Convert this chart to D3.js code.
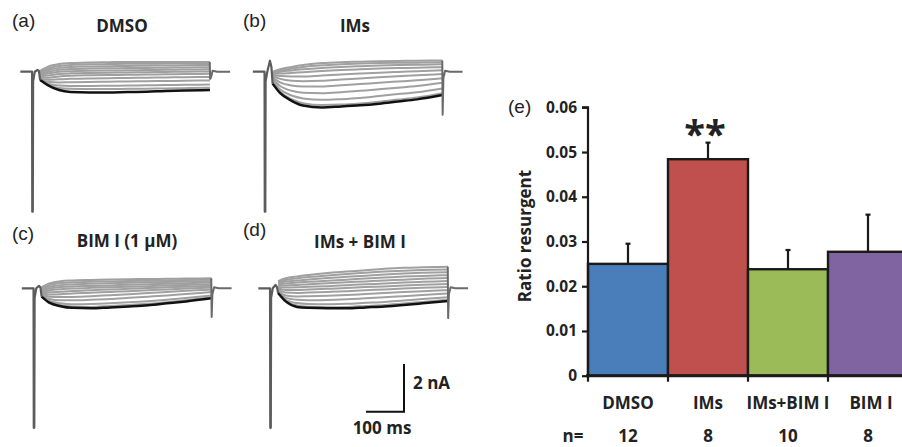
<!DOCTYPE html>
<html><head><meta charset="utf-8">
<script src="https://cdn.jsdelivr.net/npm/d3@7"></script>
<style>body{margin:0;background:#fff}svg{display:block}</style>
</head><body><svg id="c" width="902" height="447"></svg>
<script>
// ---------- Bar chart data (panel e) ----------
const categories = ["DMSO", "IMs", "IMs+BIM I", "BIM I"];
const ratioMean = [0.0250, 0.0484, 0.0238, 0.0277];
const ratioErr = [0.0045, 0.0037, 0.0043, 0.0083];
const nCells = ["12", "8", "10", "8"];
const barColors = ["#4a7ebb", "#c0504d", "#9bbb59", "#8064a2"];
const yTicks = [0, 0.01, 0.02, 0.03, 0.04, 0.05, 0.06];

// ---------- Current traces (nA) sampled at these times (ms after the spike) ----------
const traceTimes = [20, 40, 70, 100, 150, 200, 250, 300, 350, 400, 467];
const panelLabels = ["(a)", "(b)", "(c)", "(d)"];
const panelTitles = ["DMSO", "IMs", "BIM I (1 μM)", "IMs + BIM I"];
const spikeDepth = [-5.87, -5.87, -5.85, -5.85];
const transientPeak = [0.07, 0.46, 0.10, 0.14];
const endSpike = [-0.3, -1.8, -1.2, -1.25];

const blackA = [-0.35, -0.56, -0.77, -0.85, -0.87, -0.87, -0.85, -0.84, -0.81, -0.79, -0.77];
const grayA = [
  [0.03, 0.20, 0.32, 0.36, 0.39, 0.40, 0.41, 0.41, 0.41, 0.41, 0.41],
  [-0.02, 0.13, 0.24, 0.28, 0.31, 0.32, 0.33, 0.33, 0.34, 0.34, 0.35],
  [-0.06, 0.06, 0.16, 0.20, 0.22, 0.23, 0.24, 0.25, 0.26, 0.27, 0.28],
  [-0.10, -0.01, 0.08, 0.11, 0.13, 0.14, 0.15, 0.16, 0.17, 0.18, 0.19],
  [-0.14, -0.08, 0.00, 0.02, 0.04, 0.05, 0.06, 0.07, 0.08, 0.09, 0.10],
  [-0.18, -0.16, -0.10, -0.07, -0.05, -0.04, -0.03, -0.02, -0.01, 0.00, 0.01],
  [-0.22, -0.25, -0.20, -0.17, -0.15, -0.14, -0.13, -0.12, -0.11, -0.10, -0.09],
  [-0.26, -0.34, -0.32, -0.30, -0.28, -0.27, -0.26, -0.25, -0.24, -0.23, -0.22],
  [-0.30, -0.42, -0.45, -0.44, -0.43, -0.42, -0.41, -0.40, -0.39, -0.38, -0.37],
  [-0.33, -0.50, -0.58, -0.60, -0.60, -0.59, -0.58, -0.57, -0.56, -0.55, -0.54],
  [-0.35, -0.54, -0.68, -0.72, -0.73, -0.73, -0.72, -0.71, -0.70, -0.69, -0.67]
];

const blackB = [-0.50, -0.90, -1.22, -1.42, -1.50, -1.46, -1.41, -1.34, -1.25, -1.16, -0.98];
const grayB = [
  [0.00, 0.10, 0.20, 0.28, 0.36, 0.40, 0.42, 0.44, 0.45, 0.46, 0.47],
  [-0.02, 0.05, 0.13, 0.20, 0.27, 0.31, 0.34, 0.36, 0.37, 0.38, 0.40],
  [-0.05, 0.00, 0.05, 0.10, 0.16, 0.20, 0.23, 0.26, 0.28, 0.29, 0.31],
  [-0.08, -0.08, -0.05, -0.02, 0.03, 0.07, 0.10, 0.13, 0.15, 0.17, 0.19],
  [-0.12, -0.18, -0.20, -0.20, -0.16, -0.12, -0.08, -0.04, -0.01, 0.02, 0.06],
  [-0.18, -0.30, -0.38, -0.40, -0.38, -0.33, -0.28, -0.23, -0.19, -0.15, -0.10],
  [-0.25, -0.45, -0.58, -0.62, -0.62, -0.57, -0.52, -0.46, -0.41, -0.36, -0.27],
  [-0.32, -0.60, -0.80, -0.88, -0.90, -0.86, -0.80, -0.74, -0.67, -0.60, -0.46],
  [-0.40, -0.75, -1.00, -1.12, -1.18, -1.15, -1.10, -1.02, -0.94, -0.86, -0.70],
  [-0.45, -0.85, -1.15, -1.32, -1.40, -1.38, -1.33, -1.26, -1.17, -1.08, -0.90]
];

const blackC = [-0.35, -0.60, -0.75, -0.82, -0.84, -0.80, -0.76, -0.71, -0.63, -0.55, -0.42];
const grayC = [
  [0.05, 0.20, 0.30, 0.33, 0.35, 0.37, 0.38, 0.39, 0.40, 0.41, 0.42],
  [0.00, 0.13, 0.22, 0.25, 0.27, 0.29, 0.31, 0.32, 0.33, 0.35, 0.36],
  [-0.04, 0.06, 0.13, 0.16, 0.19, 0.21, 0.23, 0.25, 0.26, 0.28, 0.30],
  [-0.08, -0.01, 0.05, 0.08, 0.10, 0.12, 0.15, 0.17, 0.19, 0.21, 0.24],
  [-0.12, -0.08, -0.04, -0.01, 0.02, 0.04, 0.07, 0.09, 0.12, 0.14, 0.17],
  [-0.16, -0.17, -0.14, -0.11, -0.08, -0.05, -0.02, 0.01, 0.04, 0.07, 0.10],
  [-0.20, -0.26, -0.25, -0.22, -0.19, -0.15, -0.12, -0.08, -0.05, -0.01, 0.03],
  [-0.24, -0.35, -0.37, -0.36, -0.33, -0.29, -0.25, -0.20, -0.15, -0.10, -0.05],
  [-0.28, -0.45, -0.50, -0.50, -0.48, -0.45, -0.40, -0.35, -0.30, -0.24, -0.16],
  [-0.31, -0.53, -0.63, -0.67, -0.66, -0.63, -0.59, -0.54, -0.48, -0.41, -0.30],
  [-0.33, -0.56, -0.70, -0.76, -0.78, -0.74, -0.70, -0.65, -0.58, -0.50, -0.38]
];

const blackD = [-0.20, -0.55, -0.78, -0.82, -0.84, -0.84, -0.80, -0.76, -0.70, -0.63, -0.53];
const grayD = [
  [0.30, 0.42, 0.50, 0.56, 0.64, 0.70, 0.76, 0.82, 0.86, 0.88, 0.90],
  [0.26, 0.35, 0.42, 0.47, 0.54, 0.60, 0.65, 0.70, 0.74, 0.77, 0.79],
  [0.22, 0.28, 0.33, 0.37, 0.43, 0.48, 0.53, 0.58, 0.62, 0.65, 0.67],
  [0.17, 0.20, 0.24, 0.27, 0.32, 0.36, 0.41, 0.45, 0.49, 0.52, 0.55],
  [0.12, 0.12, 0.14, 0.17, 0.21, 0.25, 0.29, 0.33, 0.36, 0.40, 0.43],
  [0.06, 0.03, 0.04, 0.06, 0.09, 0.13, 0.17, 0.20, 0.24, 0.27, 0.31],
  [0.00, -0.07, -0.07, -0.05, -0.02, 0.01, 0.05, 0.08, 0.12, 0.15, 0.18],
  [-0.05, -0.18, -0.20, -0.18, -0.15, -0.12, -0.08, -0.05, -0.01, 0.02, 0.05],
  [-0.10, -0.30, -0.34, -0.33, -0.31, -0.28, -0.24, -0.20, -0.16, -0.12, -0.08],
  [-0.14, -0.40, -0.48, -0.50, -0.49, -0.46, -0.42, -0.38, -0.33, -0.28, -0.22],
  [-0.17, -0.48, -0.62, -0.66, -0.67, -0.65, -0.61, -0.57, -0.51, -0.45, -0.38],
  [-0.19, -0.52, -0.72, -0.77, -0.79, -0.78, -0.74, -0.70, -0.64, -0.57, -0.48]
];

const blacks = [blackA, blackB, blackC, blackD];
const grays = [grayA, grayB, grayC, grayD];

// ---------- Layout ----------
const svg = d3.select("#c");
const boldFont = "'Open Sans', 'Noto Sans', sans-serif";
const regFont = "'Liberation Sans', Arial, sans-serif";

const origins = [{x: 32.5, y: 71.7}, {x: 265, y: 71.7}, {x: 34, y: 288.3}, {x: 270.5, y: 288.3}];
const labelPos = [{x: 12, y: 27}, {x: 243, y: 27}, {x: 12, y: 240}, {x: 243, y: 236}];
const titlePos = [{x: 122, y: 32}, {x: 355, y: 32}, {x: 127, y: 247}, {x: 360, y: 248}];

// time (ms) -> px and current (nA) -> px, shared by all traces and the scale bar
const xT = d3.scaleLinear().domain([0, 100]).range([0, 38]);
const yI = d3.scaleLinear().domain([0, -2]).range([0, 47.7]);

const traceLine = d3.line().x(d => xT(d[0])).y(d => yI(d[1])).curve(d3.curveMonotoneX);
const frameLine = d3.line().x(d => xT(d[0])).y(d => yI(d[1]));

for (let p = 0; p < 4; p++) {
  const g = svg.append("g").attr("transform", `translate(${origins[p].x},${origins[p].y})`);
  // gray traces
  grays[p].forEach(vals => {
    g.append("path")
      .attr("d", traceLine(traceTimes.map((t, i) => [t, vals[i]])))
      .attr("fill", "none").attr("stroke", "#a0a0a0").attr("stroke-width", 2);
  });
  // black trace
  g.append("path")
    .attr("d", traceLine(traceTimes.map((t, i) => [t, blacks[p][i]])))
    .attr("fill", "none").attr("stroke", "#111").attr("stroke-width", 2.5);
  // holding level, transient spike and tail (shared by all sweeps)
  const topEnd = grays[p][0][traceTimes.length - 1];
  const pre = [[-32, 0], [-1.2, 0], [-0.6, spikeDepth[p]], [0.8, spikeDepth[p]], [1.6, -0.4],
               [6, 0], [13, transientPeak[p]], [17, transientPeak[p] * 0.4], [20, blacks[p][0]]];
  const tail = [[466.5, topEnd], [467.5, endSpike[p]], [469.5, -0.25], [474, 0.04], [486, 0], [520, 0]];
  g.append("path").attr("d", frameLine(pre)).attr("fill", "none")
    .attr("stroke", "#5c5c5c").attr("stroke-width", 2.2).attr("stroke-linejoin", "round");
  g.append("path").attr("d", frameLine(tail)).attr("fill", "none")
    .attr("stroke", "#6a6a6a").attr("stroke-width", 2).attr("stroke-linejoin", "round");

  svg.append("text").attr("x", labelPos[p].x).attr("y", labelPos[p].y)
    .attr("font-family", regFont).attr("font-size", 19).attr("fill", "#222").text(panelLabels[p]);
  svg.append("text").attr("x", titlePos[p].x).attr("y", titlePos[p].y).attr("text-anchor", "middle")
    .attr("font-family", boldFont).attr("font-weight", 700).attr("font-size", 17).attr("fill", "#222")
    .text(panelTitles[p]);
}

// scale bar: 100 ms, 2 nA
const sb = {x: 404, y: 411.7};
const sbG = svg.append("g").attr("transform", `translate(${sb.x},${sb.y})`);
sbG.append("path")
  .attr("d", `M${-xT(100)},0H0V${-yI(-2)}`)
  .attr("fill", "none").attr("stroke", "#111").attr("stroke-width", 2);
svg.append("text").attr("x", 413).attr("y", 388.5).attr("font-family", boldFont).attr("font-weight", 700)
  .attr("font-size", 17).attr("fill", "#222").text("2 nA");
svg.append("text").attr("x", 382).attr("y", 433.5).attr("text-anchor", "middle").attr("font-family", boldFont)
  .attr("font-weight", 700).attr("font-size", 17).attr("fill", "#222").text("100 ms");

// ---------- Bar chart ----------
const y = d3.scaleLinear().domain([0, 0.06]).range([375.7, 107.3]);
const x = d3.scaleBand().domain(categories).range([588, 908]).padding(0);
const bw = x.bandwidth();

const bars = svg.append("g");
categories.forEach((c, i) => {
  bars.append("rect").attr("x", x(c)).attr("y", y(ratioMean[i]))
    .attr("width", bw).attr("height", y(0) - y(ratioMean[i]))
    .attr("fill", barColors[i]).attr("stroke", "#1a1a1a").attr("stroke-width", 2.4);
  const cx = x(c) + bw / 2;
  bars.append("line").attr("x1", cx).attr("x2", cx)
    .attr("y1", y(ratioMean[i])).attr("y2", y(ratioMean[i] + ratioErr[i]))
    .attr("stroke", "#1a1a1a").attr("stroke-width", 2.2);
  bars.append("line").attr("x1", cx - 2.5).attr("x2", cx + 2.5)
    .attr("y1", y(ratioMean[i] + ratioErr[i])).attr("y2", y(ratioMean[i] + ratioErr[i]))
    .attr("stroke", "#1a1a1a").attr("stroke-width", 2.2);
});

// y axis
const yAxis = svg.append("g").attr("transform", `translate(588,0)`)
  .call(d3.axisLeft(y).tickValues(yTicks).tickSize(6).tickPadding(5)
    .tickFormat(d => d === 0 ? "0" : d3.format(".2f")(d)));
yAxis.select(".domain").attr("stroke", "#1a1a1a").attr("stroke-width", 2.2)
  .attr("d", `M-6,${y(0.06)}H0V${y(0)}`);
yAxis.selectAll(".tick line").attr("stroke", "#1a1a1a").attr("stroke-width", 2.2);
yAxis.selectAll(".tick text").attr("font-family", boldFont).attr("font-weight", 700)
  .attr("font-size", 15.5).attr("fill", "#222");

// x axis
svg.append("line").attr("x1", 586).attr("x2", 902).attr("y1", y(0)).attr("y2", y(0))
  .attr("stroke", "#1a1a1a").attr("stroke-width", 3);
categories.forEach(c => {
  svg.append("line").attr("x1", x(c)).attr("x2", x(c)).attr("y1", y(0)).attr("y2", y(0) + 6)
    .attr("stroke", "#1a1a1a").attr("stroke-width", 2.2);
});
categories.forEach((c, i) => {
  svg.append("text").attr("x", x(c) + bw / 2 + (i === 3 ? 3 : 0)).attr("y", 408.5).attr("text-anchor", "middle")
    .attr("font-family", boldFont).attr("font-weight", 700).attr("font-size", 17).attr("fill", "#222").text(c);
  svg.append("text").attr("x", x(c) + bw / 2).attr("y", 442).attr("text-anchor", "middle")
    .attr("font-family", boldFont).attr("font-weight", 700).attr("font-size", 17).attr("fill", "#222").text(nCells[i]);
});
svg.append("text").attr("x", 573).attr("y", 442).attr("text-anchor", "middle")
  .attr("font-family", boldFont).attr("font-weight", 700).attr("font-size", 17).attr("fill", "#222").text("n=");

// y label
svg.append("text").attr("transform", "translate(531,236) rotate(-90)").attr("text-anchor", "middle")
  .attr("font-family", boldFont).attr("font-weight", 700).attr("font-size", 17).attr("fill", "#222")
  .text("Ratio resurgent");

// significance
svg.append("text").attr("x", x("IMs") + bw / 2 - 3).attr("y", 148).attr("text-anchor", "middle")
  .attr("font-family", boldFont).attr("font-weight", 700).attr("font-size", 38).attr("fill", "#222").text("**");

// panel e label
svg.append("text").attr("x", 508).attr("y", 113).attr("font-family", regFont).attr("font-size", 19)
  .attr("fill", "#222").text("(e)");
</script>
</body></html>
